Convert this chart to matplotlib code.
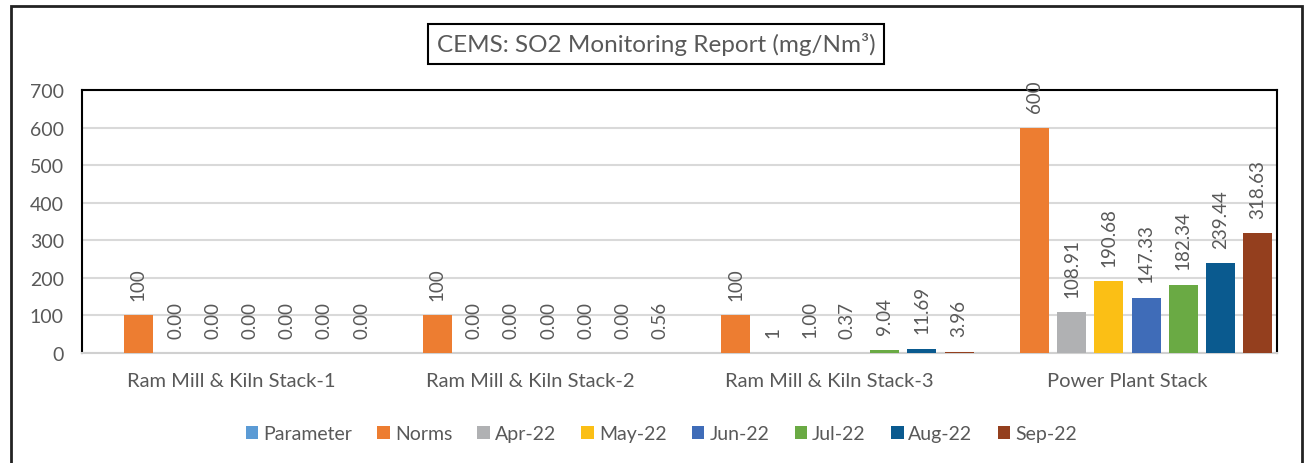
import matplotlib.pyplot as plt
import numpy as np
from matplotlib.patches import Rectangle

plt.rcParams['font.family'] = ['Lato', 'DejaVu Sans']

stacks = ['Ram Mill & Kiln Stack-1', 'Ram Mill & Kiln Stack-2',
          'Ram Mill & Kiln Stack-3', 'Power Plant Stack']

series = ['Parameter', 'Norms', 'Apr-22', 'May-22', 'Jun-22', 'Jul-22', 'Aug-22', 'Sep-22']

# values kept as the printed label text
parameter = []
norms = ["100", "100", "100", "600"]
apr22 = ["0.00", "0.00", "1", "108.91"]
may22 = ["0.00", "0.00", "1.00", "190.68"]
jun22 = ["0.00", "0.00", "0.37", "147.33"]
jul22 = ["0.00", "0.00", "9.04", "182.34"]
aug22 = ["0.00", "0.00", "11.69", "239.44"]
sep22 = ["0.00", "0.56", "3.96", "318.63"]

data = [parameter, norms, apr22, may22, jun22, jul22, aug22, sep22]
colors = ['#5B9BD5', '#ED7D31', '#B0B1B3', '#FBBF15', '#3F6CB8', '#6AAA44', '#0A5A8F', '#943F1E']

grey = '#595959'

fig = plt.figure(figsize=(13.07, 4.64), dpi=100)
ax = fig.add_axes([0.0627, 0.237, 0.9143, 0.567])

x = np.arange(len(stacks))
slot = 1.0 / 8.03
width = 0.097
for i, name in enumerate(series):
    vals = data[i]
    offs = (i - 3.5) * slot
    if len(vals) == 0:
        # empty series: keeps its slot and legend entry
        ax.bar(x + offs, np.zeros(len(x)), width, color=colors[i], label=name)
        continue
    h = [float(v) for v in vals]
    ax.bar(x + offs, h, width, color=colors[i], label=name, zorder=3)
    for xi, hi, txt in zip(x + offs, h, vals):
        ax.annotate(txt, (xi, hi), xytext=(0, 11), textcoords='offset points',
                    rotation=90, ha='center', va='bottom', fontsize=13.5, color=grey)

ax.set_xlim(-0.5, 3.5)
ax.set_ylim(0, 700)
ax.set_yticks(range(0, 701, 100))
ax.set_xticks(x)
ax.set_xticklabels(stacks)
ax.tick_params(axis='y', length=0, labelsize=14, colors=grey, pad=13)
ax.tick_params(axis='x', length=0, labelsize=14.5, colors=grey, pad=14)
ax.grid(axis='y', color='#D9D9D9', linewidth=1.5, zorder=0)
for s in ['left', 'top', 'right']:
    ax.spines[s].set_color('black')
    ax.spines[s].set_linewidth(1.5)
ax.spines['bottom'].set_color('#D0D0D0')
ax.spines['bottom'].set_linewidth(1.5)

fig.text(0.502, 0.904, 'CEMS: SO2 Monitoring Report (mg/Nm³)', ha='center', va='center',
         fontsize=17.5, color=grey,
         bbox=dict(boxstyle='square,pad=0.35', facecolor='white', edgecolor='black', linewidth=1.5))

fig.legend(loc='center', bbox_to_anchor=(0.506, 0.063), ncol=8, frameon=False,
           fontsize=14, handlelength=0.65, handleheight=0.65, handletextpad=0.25,
           columnspacing=1.3, labelcolor=grey)

fig.patches.append(Rectangle((11 / 1307, -0.05), 1291 / 1307, 1.035 - 7 / 464 + 0.05 - 0.035,
                             transform=fig.transFigure, fill=False, edgecolor='#222222', linewidth=2))

fig.savefig('out.png', dpi=100)
